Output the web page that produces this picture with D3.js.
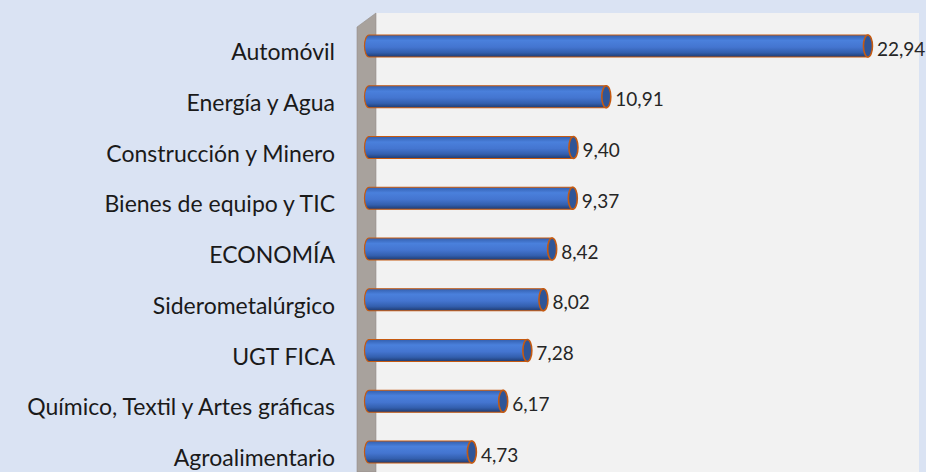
<!DOCTYPE html>
<html>
<head>
<meta charset="utf-8">
<script src="https://cdn.jsdelivr.net/npm/d3@7"></script>
<style>
  html, body { margin: 0; padding: 0; background: #dae3f3; }
  svg { display: block; }
</style>
</head>
<body>
<div id="chart"></div>
<script>
// Sectors and their values
const categories = [
  "Automóvil", "Energía y Agua", "Construcción y Minero", "Bienes de equipo y TIC",
  "ECONOMÍA", "Siderometalúrgico", "UGT FICA", "Químico, Textil y Artes gráficas",
  "Agroalimentario"
];
const values = [22.94, 10.91, 9.40, 9.37, 8.42, 8.02, 7.28, 6.17, 4.73];
const valueLabels = ["22,94", "10,91", "9,40", "9,37", "8,42", "8,02", "7,28", "6,17", "4,73"];

const width = 926, height = 472;
const data = categories.map((c, i) => ({ cat: c, value: values[i], label: valueLabels[i] }));

const svg = d3.select("#chart").append("svg")
    .attr("width", width).attr("height", height);

const defs = svg.append("defs");
const grad = defs.append("linearGradient").attr("id", "barGrad")
    .attr("x1", 0).attr("y1", 0).attr("x2", 0).attr("y2", 1);
[["0%", "#335fae"], ["25%", "#4a80dc"], ["55%", "#4475d0"], ["80%", "#335fae"], ["100%", "#1f3b70"]]
    .forEach(s => grad.append("stop").attr("offset", s[0]).attr("stop-color", s[1]));

const x = d3.scaleLinear().domain([0, 25]).range([369, 369 + 25 * 21.75]);
const y = d3.scalePoint().domain(categories).range([46, 452]);

// 3D walls
const wallLeft = 376, wallTop = 13, wallRight = 919, depth = 19;
svg.append("rect").attr("x", wallLeft).attr("y", wallTop)
    .attr("width", wallRight - wallLeft).attr("height", height - wallTop)
    .attr("fill", "#f2f2f2");
svg.append("path")
    .attr("d", `M${wallLeft - depth},${wallTop + 14} L${wallLeft},${wallTop} L${wallLeft},${height} L${wallLeft - depth},${height} Z`)
    .attr("fill", "#a8a29d").attr("stroke", "#948f8a").attr("stroke-width", 0.6);

// Bars as cylinders
const bh = 22, rx = 4.5;
const bars = svg.append("g").selectAll("g").data(data).join("g");

bars.append("path")
    .attr("d", d => {
        const x0 = x(0), x1 = x(d.value), t = y(d.cat) - bh / 2, b = y(d.cat) + bh / 2;
        return `M${x0},${t} L${x1},${t} L${x1},${b} L${x0},${b} A${rx},${bh / 2} 0 0 1 ${x0},${t} Z`;
    })
    .attr("fill", "url(#barGrad)")
    .attr("stroke", "#c55a11").attr("stroke-width", 1.2);

bars.append("ellipse")
    .attr("cx", d => x(d.value)).attr("cy", d => y(d.cat))
    .attr("rx", rx).attr("ry", bh / 2)
    .attr("fill", "#2f5597")
    .attr("stroke", "#c55a11").attr("stroke-width", 1.6);

// Value labels
bars.append("text")
    .attr("x", d => x(d.value) + 9).attr("y", d => y(d.cat) + 3)
    .attr("dy", "0.35em")
    .style("font-family", "Lato, 'Open Sans', sans-serif")
    .style("font-size", "19px").style("fill", "#262626")
    .text(d => d.label);

// Category labels
svg.append("g").selectAll("text").data(data).join("text")
    .attr("x", 335).attr("y", d => y(d.cat) + 6)
    .attr("dy", "0.35em")
    .attr("text-anchor", "end")
    .style("font-family", "Lato, 'Open Sans', sans-serif")
    .style("font-size", "23px").style("fill", "#1a1a1a")
    .text(d => d.cat);
</script>
</body>
</html>
